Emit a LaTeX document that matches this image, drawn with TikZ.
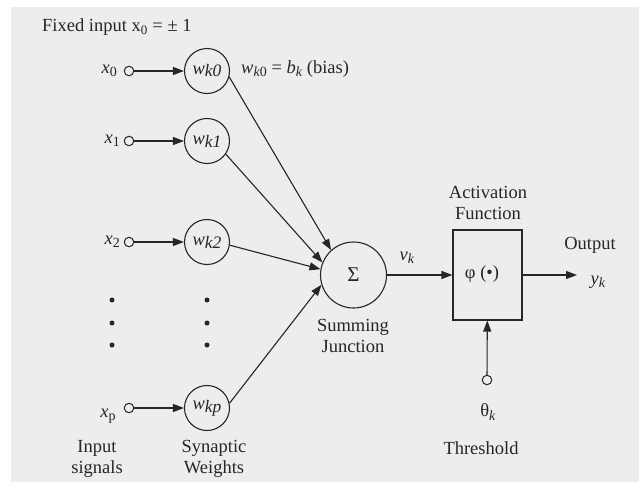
\documentclass[tikz,border=0pt]{standalone}
\usepackage{fontspec}
\setmainfont{Liberation Serif}
\usetikzlibrary{arrows.meta}
\definecolor{bg}{HTML}{EDEDED}
\definecolor{ink}{HTML}{262626}
\newcommand\sbs[1]{\raisebox{-0.4ex}{\fontsize{14}{14}\selectfont #1}}
\newcommand\wsb[1]{\raisebox{-0.3ex}{\fontsize{17.5}{17.5}\selectfont #1}}
\begin{document}
\begin{tikzpicture}[x=1pt,y=-1pt,
  font=\fontsize{18.5}{21}\selectfont, text=ink,
  wt/.style={circle, draw=ink, line width=1.1pt, minimum size=45pt, inner sep=0pt},
  port/.style={circle, draw=ink, line width=1pt, minimum size=9.5pt, inner sep=0pt},
  conn/.style={draw=ink, line width=1.1pt, -{Triangle[length=11pt,width=8pt]}},
  lbl/.style={align=center, inner sep=0pt},
  dotm/.style={circle, fill=ink, minimum size=5pt, inner sep=0pt}]
\useasboundingbox (0,0) rectangle (639,482);
\fill[white] (0,0) rectangle (639,482);
\fill[bg] (11,7) rectangle (639,482);

% title
\node[lbl, anchor=west] (fixed) at (42,27) {Fixed input x\textsubscript{0} = ± 1};

% input ports
\node[port] (p0) at (129,71) {};
\node[port] (p1) at (129,141) {};
\node[port] (p2) at (129,242) {};
\node[port] (pp) at (129,408) {};

\node[lbl, anchor=east] (x0) at (117,71) {\textit{x}\sbs{0}};
\node[lbl, anchor=east] (x1) at (120,141) {\textit{x}\sbs{1}};
\node[lbl, anchor=east] (x2) at (120,242) {\textit{x}\sbs{2}};
\node[lbl] (xp) at (108,416) {\textit{x}\sbs{p}};

% weights
\node[wt] (w0) at (207,71) {\textit{w}\wsb{\textit{k0}}};
\node[wt] (w1) at (207,141) {\textit{w}\wsb{\textit{k1}}};
\node[wt] (w2) at (207,242) {\textit{w}\wsb{\textit{k2}}};
\node[wt] (wp) at (207,408) {\textit{w}\wsb{\textit{kp}}};

\node[lbl, anchor=west] (bias) at (241,69) {\textit{w}\sbs{\textit{k}0} = \textit{b}\sbs{\textit{k}} (bias)};

% dots
\foreach \yy [count=\i] in {300,323,345} {
  \node[dotm] (da\i) at (112,\yy) {};
  \node[dotm] (db\i) at (207,\yy) {};
}

% summing junction
\node[circle, draw=ink, line width=1.1pt, minimum size=66pt, inner sep=0pt, font=\fontsize{21}{21}\selectfont] (sum) at (353.5,275) {Σ};
\node[lbl] (sumlbl) at (353,336) {Summing\\Junction};

% activation box
\node[draw=ink, line width=1.1pt, minimum width=69pt, minimum height=90pt, inner sep=0pt] (act) at (487.5,275) {};
\node[lbl] (phi) at (482,274) {φ (•)};
\node[lbl] (actlbl) at (488,203) {Activation\\Function};

\node[lbl] (vk) at (407,258) {\textit{v}\sbs{\textit{k}}};

% output
\coordinate (outend) at (577,275);
\node[lbl] (outlbl) at (590,245) {Output};
\node[lbl] (yk) at (598,282) {\textit{y}\sbs{\textit{k}}};

% threshold
\node[port] (th) at (487,380) {};
\node[lbl] (thk) at (488,412) {θ\sbs{\textit{k}}};
\node[lbl] (thlbl) at (481,448) {Threshold};

% bottom labels
\node[lbl] (inlbl) at (97,459) {Input\\signals};
\node[lbl] (swlbl) at (214,459) {Synaptic\\Weights};

% connectors
\draw[conn] (p0) -- (w0);
\draw[conn] (p1) -- (w1);
\draw[conn] (p2) -- (w2);
\draw[conn] (pp) -- (wp);
\draw[conn] (w0.-15) -- (sum.132);
\draw[conn] (w1.-35) -- (sum.158);
\draw[conn] (w2.-8) -- (sum.170);
\draw[conn] (wp.12) -- (sum.197);
\draw[conn] (sum) -- (act);
\draw[conn] (act) -- (outend);
\draw[conn] (th) -- (act);
\end{tikzpicture}
\end{document}
